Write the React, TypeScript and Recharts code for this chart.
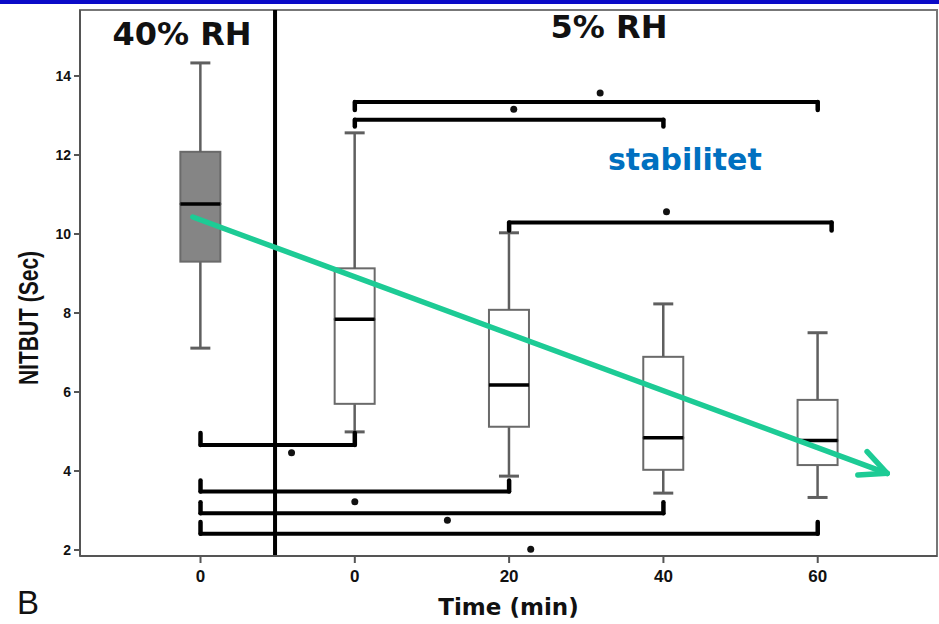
import {
  ComposedChart,
  Bar,
  XAxis,
  YAxis,
  ReferenceLine,
  ReferenceDot,
  ReferenceArea,
} from "recharts";

// groups: 40% RH at 0 min, then 5% RH at 0/20/40/60 min
const positions = [0, 1, 2, 3, 4];
const tickLabels = ["0", "0", "20", "40", "60"];
const mins = [7.11, 4.99, 3.87, 3.44, 3.33];
const q1s = [9.3, 5.7, 5.12, 4.03, 4.15];
const medians = [10.76, 7.84, 6.18, 4.84, 4.77];
const q3s = [12.08, 9.13, 8.08, 6.89, 5.8];
const maxs = [14.33, 12.56, 10.03, 8.23, 7.5];

const yTicks = [2, 4, 6, 8, 10, 12, 14];
const xDomain = [-0.781, 4.773];
const yDomain = [1.848, 15.67];
const dividerX = 0.483;

// significance brackets (* p < 0.05)
const bracketFrom = [1, 1, 2, 0, 0, 0, 0];
const bracketTo = [4, 3, 4.09, 1, 2, 3, 4];
const bracketLevel = [13.34, 12.89, 10.29, 4.66, 3.48, 2.93, 2.41];
const bracketHook = [-0.2, -0.17, -0.2, 0.3, 0.28, 0.28, 0.3];
const starX = [2.59, 2.03, 3.02, 0.59, 1.0, 1.6, 2.14];
const starY = [13.57, 13.16, 10.56, 4.46, 3.22, 2.75, 2.02];

// trend arrow ("stabilitet")
const arrowX = [-0.05, 4.45];
const arrowY = [10.43, 3.94];
const arrowHeadX = [4.32, 4.26];
const arrowHeadY = [4.49, 3.9];

const rows = positions.map((p, i) => ({
  pos: p,
  base: mins[i],
  lowW: q1s[i] - mins[i],
  boxLo: medians[i] - q1s[i],
  boxHi: q3s[i] - medians[i],
  highW: maxs[i] - q3s[i],
}));

const WHISKER = "#5f5f5f";
const BOXLINE = "#6a6a6a";
const ARROW = "#1dcb95";

const boxFill = (i: number) => (i === 0 ? "#858585" : "#ffffff");

const LowWhisker = (props: any) => {
  const { x, y, width, height } = props;
  const cx = x + width / 2;
  return (
    <g>
      <line x1={cx} x2={cx} y1={y} y2={y + height} stroke={WHISKER} strokeWidth={2.5} />
      <line x1={cx - 10} x2={cx + 10} y1={y + height} y2={y + height} stroke={WHISKER} strokeWidth={3} />
    </g>
  );
};

const HighWhisker = (props: any) => {
  const { x, y, width, height } = props;
  const cx = x + width / 2;
  return (
    <g>
      <line x1={cx} x2={cx} y1={y} y2={y + height} stroke={WHISKER} strokeWidth={2.5} />
      <line x1={cx - 10} x2={cx + 10} y1={y} y2={y} stroke={WHISKER} strokeWidth={3} />
    </g>
  );
};

const BoxLower = (props: any) => {
  const { x, y, width, height, index } = props;
  return <rect x={x} y={y} width={width} height={height} fill={boxFill(index)} stroke={BOXLINE} strokeWidth={2} />;
};

const BoxUpper = (props: any) => {
  const { x, y, width, height, index } = props;
  return (
    <g>
      <rect x={x} y={y} width={width} height={height} fill={boxFill(index)} stroke={BOXLINE} strokeWidth={2} />
      <line x1={x} x2={x + width} y1={y + height} y2={y + height} stroke="#000" strokeWidth={3.5} />
    </g>
  );
};

const bold = { fontFamily: "'Liberation Sans', Arial, sans-serif", fontWeight: "bold" as const };

export default function App() {
  return (
    <div style={{ position: "relative", width: 939, height: 624, background: "#fff" }}>
      <style>{`body{margin:0}`}</style>
      <ComposedChart
        width={939}
        height={624}
        data={rows}
        margin={{ top: 10, right: 2, bottom: 0, left: 0 }}
      >
        <XAxis
          dataKey="pos"
          type="number"
          domain={xDomain}
          ticks={positions}
          interval={0}
          allowDataOverflow
          tickFormatter={(v: number) => tickLabels[v]}
          height={68}
          tickSize={7}
          tickMargin={7}
          axisLine={{ stroke: "#555", strokeWidth: 2 }}
          tickLine={{ stroke: "#555", strokeWidth: 2 }}
          tick={{ ...bold, fill: "#111", fontSize: 17 }}
          label={{
            value: "Time (min)",
            position: "insideBottom",
            offset: 9,
            fill: "#111",
            fontSize: 23,
            fontWeight: "bold",
            fontFamily: "'DejaVu Sans', sans-serif",
          }}
        />
        <YAxis
          type="number"
          domain={yDomain}
          ticks={yTicks}
          allowDataOverflow
          width={80}
          tickSize={6}
          tickMargin={3}
          axisLine={{ stroke: "#555", strokeWidth: 2 }}
          tickLine={{ stroke: "#555", strokeWidth: 2 }}
          tick={{ ...bold, fill: "#111", fontSize: 14 }}
        />
        <ReferenceArea
          x1={xDomain[0]}
          x2={xDomain[1]}
          y1={yDomain[0]}
          y2={yDomain[1]}
          fill="none"
          stroke="#777"
          strokeWidth={2}
        />
        <Bar dataKey="base" stackId="b" barSize={40} shape={() => <g />} isAnimationActive={false} />
        <Bar dataKey="lowW" stackId="b" barSize={40} shape={LowWhisker} isAnimationActive={false} />
        <Bar dataKey="boxLo" stackId="b" barSize={40} shape={BoxLower} isAnimationActive={false} />
        <Bar dataKey="boxHi" stackId="b" barSize={40} shape={BoxUpper} isAnimationActive={false} />
        <Bar dataKey="highW" stackId="b" barSize={40} shape={HighWhisker} isAnimationActive={false} />

        <ReferenceLine x={dividerX} stroke="#000" strokeWidth={4} />

        {bracketLevel.map((lv, i) => (
          <ReferenceLine
            key={`bh${i}`}
            segment={[
              { x: bracketFrom[i], y: lv },
              { x: bracketTo[i], y: lv },
            ]}
            stroke="#000"
            strokeWidth={4}
            strokeLinecap="round"
          />
        ))}
        {bracketLevel.map((lv, i) => (
          <ReferenceLine
            key={`bl${i}`}
            segment={[
              { x: bracketFrom[i], y: lv },
              { x: bracketFrom[i], y: lv + bracketHook[i] },
            ]}
            stroke="#000"
            strokeWidth={4.5}
            strokeLinecap="round"
          />
        ))}
        {bracketLevel.map((lv, i) => (
          <ReferenceLine
            key={`br${i}`}
            segment={[
              { x: bracketTo[i], y: lv },
              { x: bracketTo[i], y: lv + bracketHook[i] },
            ]}
            stroke="#000"
            strokeWidth={4.5}
            strokeLinecap="round"
          />
        ))}
        {starX.map((sx, i) => (
          <ReferenceDot key={`s${i}`} x={sx} y={starY[i]} r={3.5} fill="#111" stroke="none" />
        ))}

        <ReferenceLine
          segment={[
            { x: arrowX[0], y: arrowY[0] },
            { x: arrowX[1], y: arrowY[1] },
          ]}
          stroke={ARROW}
          strokeWidth={5.5}
          strokeLinecap="round"
        />
        {arrowHeadX.map((hx, i) => (
          <ReferenceLine
            key={`ah${i}`}
            segment={[
              { x: arrowX[1], y: arrowY[1] },
              { x: hx, y: arrowHeadY[i] },
            ]}
            stroke={ARROW}
            strokeWidth={5.5}
            strokeLinecap="round"
          />
        ))}
      </ComposedChart>

      <svg
        width={939}
        height={624}
        style={{ position: "absolute", left: 0, top: 0, pointerEvents: "none" }}
      >
        <rect x={0} y={0} width={939} height={4} fill="#0a0ac8" />
        <text x={182} y={45} textAnchor="middle" fontFamily="'DejaVu Sans', sans-serif" fontWeight="bold" fontSize={32} fill="#111">
          40% RH
        </text>
        <text x={609} y={38} textAnchor="middle" fontFamily="'DejaVu Sans', sans-serif" fontWeight="bold" fontSize={32} fill="#111">
          5% RH
        </text>
        <text x={608} y={170} fontFamily="'DejaVu Sans', sans-serif" fontWeight="bold" fontSize={30} fill="#0070c0">
          stabilitet
        </text>
        <text x={17} y={614} fontFamily="'Liberation Sans', Arial, sans-serif" fontSize={33} fill="#111">
          B
        </text>
        <text
          transform="translate(38,318) rotate(-90) scale(0.75,1)"
          textAnchor="middle"
          fontFamily="'Liberation Sans', Arial, sans-serif"
          fontWeight="bold"
          fontSize={28}
          fill="#111"
        >
          NITBUT (Sec)
        </text>
      </svg>
    </div>
  );
}
